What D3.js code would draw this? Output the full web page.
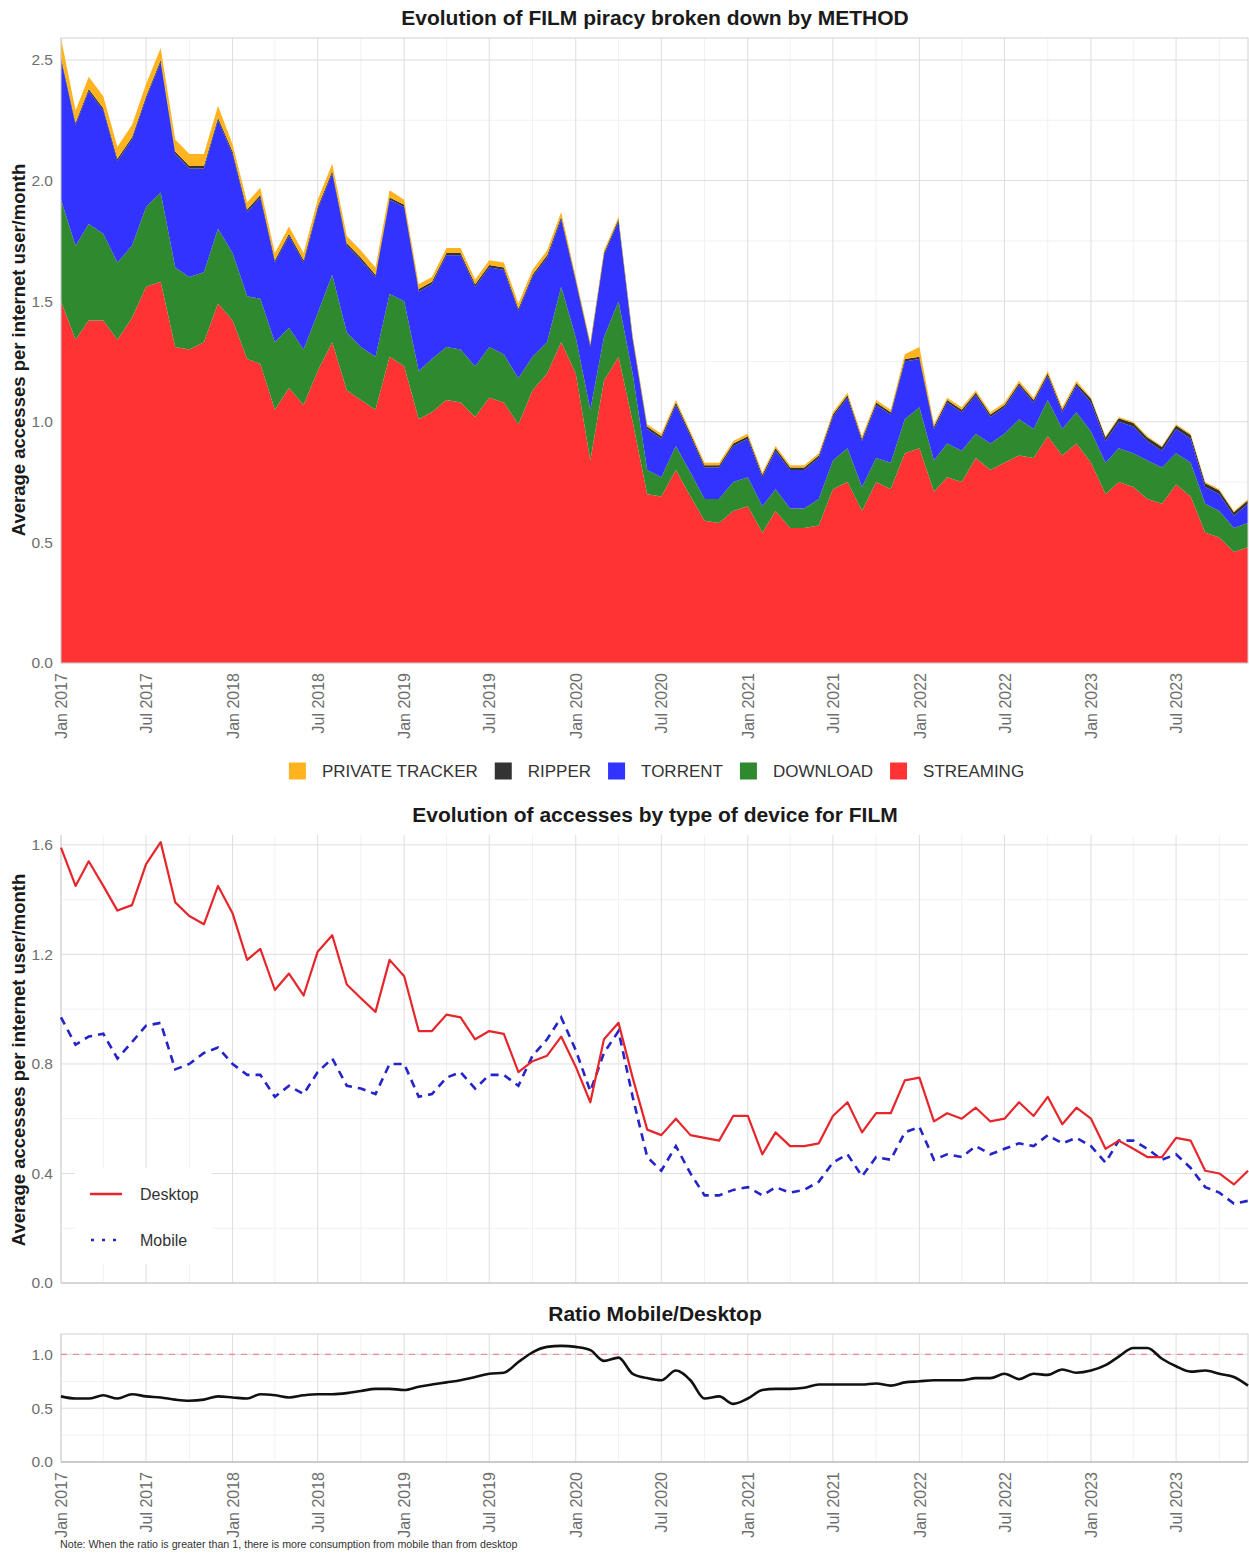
<!DOCTYPE html>
<html>
<head>
<meta charset="utf-8">
<script src="https://cdn.jsdelivr.net/npm/d3@7"></script>
<style>
  body { margin: 0; background: #fff; }
  svg { display: block; }
  text { font-family: "Liberation Sans", Arial, Helvetica, sans-serif; }
</style>
</head>
<body>
<svg id="chart" width="1249" height="1553"></svg>
<script>
// ---------- data ----------
const startMonth = new Date(2017, 0, 1);
const months = d3.timeMonth.range(startMonth, new Date(2024, 0, 1)); // Jan 2017 .. Dec 2023

const xTickLabels = ["Jan 2017","Jul 2017","Jan 2018","Jul 2018","Jan 2019","Jul 2019","Jan 2020",
                     "Jul 2020","Jan 2021","Jul 2021","Jan 2022","Jul 2022","Jan 2023","Jul 2023"];

// piracy by method (accesses per internet user / month)
const streaming = [
  1.50,1.34,1.42,1.42,1.34,1.43,1.56,1.58,1.31,1.30,1.33,1.49,
  1.42,1.26,1.24,1.05,1.14,1.07,1.21,1.33,1.13,1.09,1.05,1.27,
  1.23,1.01,1.04,1.09,1.08,1.02,1.10,1.08,0.99,1.13,1.20,1.33,
  1.20,0.84,1.17,1.27,1.00,0.70,0.69,0.80,0.69,0.59,0.58,0.63,
  0.65,0.54,0.63,0.56,0.56,0.57,0.72,0.75,0.63,0.75,0.72,0.87,
  0.89,0.71,0.77,0.75,0.85,0.80,0.83,0.86,0.85,0.94,0.86,0.91,
  0.83,0.70,0.75,0.73,0.68,0.66,0.74,0.69,0.54,0.52,0.46,0.48];
const download = [
  0.42,0.39,0.40,0.36,0.32,0.30,0.33,0.37,0.33,0.30,0.29,0.31,
  0.28,0.26,0.27,0.28,0.25,0.23,0.24,0.28,0.24,0.22,0.22,0.26,
  0.27,0.20,0.22,0.22,0.22,0.21,0.21,0.20,0.19,0.14,0.13,0.23,
  0.15,0.21,0.18,0.23,0.20,0.10,0.08,0.10,0.10,0.09,0.10,0.12,
  0.12,0.11,0.09,0.08,0.08,0.11,0.12,0.14,0.10,0.10,0.11,0.14,
  0.17,0.13,0.14,0.13,0.10,0.11,0.12,0.15,0.12,0.15,0.11,0.13,
  0.13,0.13,0.14,0.14,0.16,0.15,0.13,0.14,0.12,0.11,0.10,0.10];
const torrent = [
  0.58,0.50,0.55,0.51,0.42,0.44,0.45,0.54,0.47,0.45,0.43,0.45,
  0.41,0.35,0.42,0.33,0.38,0.36,0.43,0.42,0.36,0.36,0.33,0.39,
  0.39,0.33,0.31,0.38,0.39,0.33,0.33,0.35,0.28,0.33,0.35,0.28,
  0.23,0.26,0.34,0.33,0.14,0.17,0.16,0.17,0.15,0.13,0.13,0.15,
  0.16,0.12,0.16,0.16,0.16,0.17,0.18,0.21,0.19,0.22,0.20,0.24,
  0.20,0.13,0.17,0.16,0.16,0.11,0.11,0.14,0.11,0.10,0.07,0.11,
  0.12,0.09,0.11,0.11,0.08,0.07,0.10,0.10,0.07,0.07,0.05,0.08];
const ripper = [
  0.01,0.01,0.01,0.01,0.01,0.01,0.01,0.01,0.01,0.01,0.01,0.01,
  0.01,0.01,0.01,0.01,0.01,0.01,0.01,0.01,0.01,0.01,0.01,0.01,
  0.01,0.01,0.01,0.01,0.01,0.01,0.01,0.01,0.01,0.01,0.01,0.01,
  0.01,0.01,0.01,0.01,0.01,0.01,0.01,0.01,0.01,0.01,0.01,0.01,
  0.01,0.01,0.01,0.01,0.01,0.01,0.01,0.01,0.01,0.01,0.01,0.01,
  0.01,0.01,0.01,0.01,0.01,0.01,0.01,0.01,0.01,0.01,0.01,0.01,
  0.015,0.015,0.015,0.015,0.015,0.015,0.015,0.015,0.015,0.015,0.015,0.015];
const privateTracker = [
  0.08,0.05,0.05,0.05,0.05,0.05,0.05,0.05,0.05,0.05,0.05,0.05,
  0.03,0.03,0.03,0.03,0.03,0.03,0.03,0.03,0.03,0.03,0.03,0.03,
  0.02,0.02,0.02,0.02,0.02,0.02,0.02,0.02,0.02,0.02,0.02,0.02,
  0.01,0.01,0.01,0.01,0.01,0.01,0.01,0.01,0.01,0.01,0.01,0.01,
  0.01,0.01,0.01,0.01,0.01,0.01,0.01,0.01,0.01,0.01,0.01,0.02,
  0.04,0.01,0.01,0.01,0.01,0.01,0.01,0.01,0.01,0.01,0.01,0.01,
  0.005,0.005,0.005,0.005,0.005,0.005,0.005,0.005,0.005,0.005,0.005,0.005];

// accesses by device
const desktop = [
  1.59,1.45,1.54,1.45,1.36,1.38,1.53,1.61,1.39,1.34,1.31,1.45,
  1.35,1.18,1.22,1.07,1.13,1.05,1.21,1.27,1.09,1.04,0.99,1.18,
  1.12,0.92,0.92,0.98,0.97,0.89,0.92,0.91,0.77,0.81,0.83,0.90,
  0.79,0.66,0.89,0.95,0.75,0.56,0.54,0.60,0.54,0.53,0.52,0.61,
  0.61,0.47,0.55,0.50,0.50,0.51,0.61,0.66,0.55,0.62,0.62,0.74,
  0.75,0.59,0.62,0.60,0.64,0.59,0.60,0.66,0.61,0.68,0.58,0.64,
  0.60,0.49,0.52,0.49,0.46,0.46,0.53,0.52,0.41,0.40,0.36,0.41];
const mobile = [
  0.97,0.87,0.90,0.91,0.82,0.88,0.94,0.95,0.78,0.80,0.84,0.86,
  0.80,0.76,0.76,0.68,0.72,0.69,0.77,0.82,0.72,0.71,0.69,0.80,
  0.80,0.68,0.69,0.75,0.77,0.71,0.76,0.76,0.72,0.83,0.89,0.97,
  0.85,0.70,0.84,0.92,0.68,0.46,0.41,0.50,0.40,0.32,0.32,0.34,
  0.35,0.32,0.35,0.33,0.34,0.37,0.44,0.47,0.39,0.46,0.45,0.55,
  0.57,0.45,0.47,0.46,0.50,0.47,0.49,0.51,0.50,0.54,0.51,0.53,
  0.50,0.44,0.52,0.52,0.49,0.45,0.47,0.42,0.35,0.33,0.29,0.30];

// smoothed mobile / desktop ratio
const ratio = [
  0.61,0.59,0.59,0.62,0.59,0.63,0.61,0.60,0.58,0.57,0.58,0.61,
  0.60,0.59,0.63,0.62,0.60,0.62,0.63,0.63,0.64,0.66,0.68,0.68,
  0.67,0.70,0.72,0.74,0.76,0.79,0.82,0.83,0.93,1.02,1.07,1.08,
  1.07,1.04,0.94,0.97,0.82,0.78,0.76,0.85,0.76,0.59,0.61,0.54,
  0.59,0.67,0.68,0.68,0.69,0.72,0.72,0.72,0.72,0.73,0.71,0.74,
  0.75,0.76,0.76,0.76,0.78,0.78,0.82,0.77,0.82,0.81,0.86,0.83,
  0.85,0.90,0.98,1.06,1.06,0.96,0.89,0.84,0.85,0.82,0.79,0.71];

const methodKeys   = ["streaming","download","torrent","ripper","tracker"];
const methodLabels = ["PRIVATE TRACKER","RIPPER","TORRENT","DOWNLOAD","STREAMING"];
const methodColors = { tracker: "#FFB31F", ripper: "#333333", torrent: "#3333FF", download: "#2F8A2F", streaming: "#FF3333" };

const topTicks   = [0, 0.5, 1.0, 1.5, 2.0, 2.5];
const midTicks   = [0, 0.4, 0.8, 1.2, 1.6];
const ratioTicks = [0, 0.5, 1.0];

// ---------- layout ----------
const svg = d3.select("#chart");
const X0 = 61, X1 = 1248;
const P1 = { top: 38,   bottom: 663 };
const P2 = { top: 835,  bottom: 1283 };
const P3 = { top: 1334, bottom: 1462 };

const x = d3.scaleTime().domain([months[0], months[months.length - 1]]).range([X0, X1]);
const xTickDates = xTickLabels.map(s => d3.timeParse("%b %Y")(s));
const minorDates = d3.timeMonth.range(months[0], months[months.length - 1], 1).filter(d => d.getMonth() % 6 === 3);

const yTop   = d3.scaleLinear().domain([0, 2.591]).range([P1.bottom, P1.top]);
const yMid   = d3.scaleLinear().domain([0, 1.636]).range([P2.bottom, P2.top]);
const yRatio = d3.scaleLinear().domain([0, 1.19]).range([P3.bottom, P3.top]);

const gridMajor = "#dedede", gridMinor = "#f1f1f1", tickColor = "#6e6e6e";

function drawGrid(g, y, majors, top, bottom) {
  const minors = d3.pairs(majors).map(([a, b]) => (a + b) / 2);
  g.append("g").selectAll("line").data(minorDates).join("line")
    .attr("x1", d => x(d)).attr("x2", d => x(d)).attr("y1", top).attr("y2", bottom)
    .attr("stroke", gridMinor);
  g.append("g").selectAll("line").data(minors).join("line")
    .attr("x1", X0).attr("x2", X1).attr("y1", d => y(d)).attr("y2", d => y(d))
    .attr("stroke", gridMinor);
  g.append("g").selectAll("line").data(xTickDates).join("line")
    .attr("x1", d => x(d)).attr("x2", d => x(d)).attr("y1", top).attr("y2", bottom)
    .attr("stroke", gridMajor);
  g.append("g").selectAll("line").data(majors).join("line")
    .attr("x1", X0).attr("x2", X1).attr("y1", d => y(d)).attr("y2", d => y(d))
    .attr("stroke", gridMajor);
}

function drawYAxis(y, ticks) {
  const ax = svg.append("g").attr("transform", `translate(${X0},0)`)
    .call(d3.axisLeft(y).tickValues(ticks).tickFormat(d3.format(".1f")).tickSize(0).tickPadding(8));
  ax.select(".domain").remove();
  ax.selectAll("text").attr("fill", tickColor).style("font-size", "15.5px");
}

function drawXAxis(yPos) {
  const ax = svg.append("g").attr("transform", `translate(0,${yPos})`)
    .call(d3.axisBottom(x).tickValues(xTickDates).tickFormat((d, i) => xTickLabels[i]).tickSize(0));
  ax.select(".domain").remove();
  ax.selectAll("text")
    .attr("transform", "rotate(-90)")
    .attr("text-anchor", "end")
    .attr("x", -10).attr("y", 0).attr("dy", "0.35em")
    .attr("fill", tickColor).style("font-size", "16px");
}

function title(text, cy) {
  svg.append("text").attr("x", 655).attr("y", cy)
    .attr("text-anchor", "middle").attr("font-weight", "bold")
    .attr("fill", "#1a1a1a").style("font-size", "21px").text(text);
}

function yTitle(text, cy) {
  svg.append("text").attr("transform", `translate(25,${cy}) rotate(-90)`)
    .attr("text-anchor", "middle").attr("font-weight", "bold")
    .attr("fill", "#1a1a1a").style("font-size", "18.5px").text(text);
}

// ---------- 1. stacked area by method ----------
title("Evolution of FILM piracy broken down by METHOD", 24.5);

const rows = months.map((m, i) => ({
  date: m, streaming: streaming[i], download: download[i], torrent: torrent[i],
  ripper: ripper[i], tracker: privateTracker[i]
}));
const stacked = d3.stack().keys(methodKeys)(rows);

const g1 = svg.append("g");
drawGrid(g1, yTop, topTicks, P1.top, P1.bottom);

const area = d3.area()
  .x(d => x(d.data.date))
  .y0(d => yTop(d[0]))
  .y1(d => yTop(d[1]));

g1.selectAll("path.layer").data(stacked).join("path")
  .attr("class", "layer")
  .attr("fill", d => methodColors[d.key])
  .attr("d", area);

g1.append("rect").attr("x", X0).attr("y", P1.top).attr("width", X1 - X0).attr("height", P1.bottom - P1.top)
  .attr("fill", "none").attr("stroke", "#d0d0d0");

drawYAxis(yTop, topTicks);
drawXAxis(P1.bottom);
yTitle("Average accesses per internet user/month", 350);

// legend
const legendKeys = ["tracker","ripper","torrent","download","streaming"];
const lg = svg.append("g");
let lx = 0;
legendKeys.forEach((k, i) => {
  const item = lg.append("g").attr("transform", `translate(${lx},0)`);
  item.append("rect").attr("x", 0).attr("y", -8.5).attr("width", 17).attr("height", 17).attr("fill", methodColors[k]);
  const t = item.append("text").attr("x", 33).attr("y", 0).attr("dy", "0.35em")
    .attr("fill", "#333").style("font-size", "17px").text(methodLabels[i]);
  lx += 33 + t.node().getComputedTextLength() + 17;
});
lx -= 17;
lg.attr("transform", `translate(${656.5 - lx / 2},771)`);

// ---------- 2. device lines ----------
title("Evolution of accesses by type of device for FILM", 821.5);

const g2 = svg.append("g");
drawGrid(g2, yMid, midTicks, P2.top, P2.bottom);
g2.append("line").attr("x1", X0).attr("x2", X1).attr("y1", P2.bottom).attr("y2", P2.bottom).attr("stroke", "#bdbdbd");
g2.append("line").attr("x1", X0).attr("x2", X0).attr("y1", P2.top).attr("y2", P2.bottom).attr("stroke", "#d0d0d0");

const lineMid = vals => d3.line().x((d, i) => x(months[i])).y(d => yMid(d))(vals);
g2.append("path").attr("d", lineMid(mobile)).attr("fill", "none")
  .attr("stroke", "#2424C8").attr("stroke-width", 2.6).attr("stroke-dasharray", "8,6");
g2.append("path").attr("d", lineMid(desktop)).attr("fill", "none")
  .attr("stroke", "#E6262B").attr("stroke-width", 2.2).attr("stroke-linejoin", "round");

drawYAxis(yMid, midTicks);
yTitle("Average accesses per internet user/month", 1060);

// inner legend
const dl = svg.append("g");
dl.append("rect").attr("x", 75).attr("y", 1168).attr("width", 137).attr("height", 96).attr("fill", "#fff");
dl.append("line").attr("x1", 90).attr("x2", 122).attr("y1", 1194).attr("y2", 1194)
  .attr("stroke", "#E6262B").attr("stroke-width", 2.5);
dl.append("line").attr("x1", 91).attr("x2", 121).attr("y1", 1240).attr("y2", 1240)
  .attr("stroke", "#2424C8").attr("stroke-width", 2.6).attr("stroke-dasharray", "3,8");
dl.append("text").attr("x", 140).attr("y", 1194).attr("dy", "0.35em").attr("fill", "#333")
  .style("font-size", "16px").text("Desktop");
dl.append("text").attr("x", 140).attr("y", 1240).attr("dy", "0.35em").attr("fill", "#333")
  .style("font-size", "16px").text("Mobile");

// ---------- 3. ratio ----------
title("Ratio Mobile/Desktop", 1320.5);

const g3 = svg.append("g");
drawGrid(g3, yRatio, ratioTicks, P3.top, P3.bottom);
g3.append("rect").attr("x", X0).attr("y", P3.top).attr("width", X1 - X0).attr("height", P3.bottom - P3.top)
  .attr("fill", "none").attr("stroke", "#d0d0d0");
g3.append("line").attr("x1", X0).attr("x2", X1).attr("y1", P3.bottom).attr("y2", P3.bottom).attr("stroke", "#b5b5b5");

g3.append("line").attr("x1", X0).attr("x2", X1).attr("y1", yRatio(1)).attr("y2", yRatio(1))
  .attr("stroke", "#EE8A95").attr("stroke-width", 1.3).attr("stroke-dasharray", "6,6");

g3.append("path")
  .attr("d", d3.line().x((d, i) => x(months[i])).y(d => yRatio(d)).curve(d3.curveMonotoneX)(ratio))
  .attr("fill", "none").attr("stroke", "#111").attr("stroke-width", 2.6).attr("stroke-linejoin", "round");

drawYAxis(yRatio, ratioTicks);
drawXAxis(P3.bottom);

svg.append("text").attr("x", 60).attr("y", 1548).attr("fill", "#333").style("font-size", "10.7px")
  .text("Note: When the ratio is greater than 1, there is more consumption from mobile than from desktop");
</script>
</body>
</html>
